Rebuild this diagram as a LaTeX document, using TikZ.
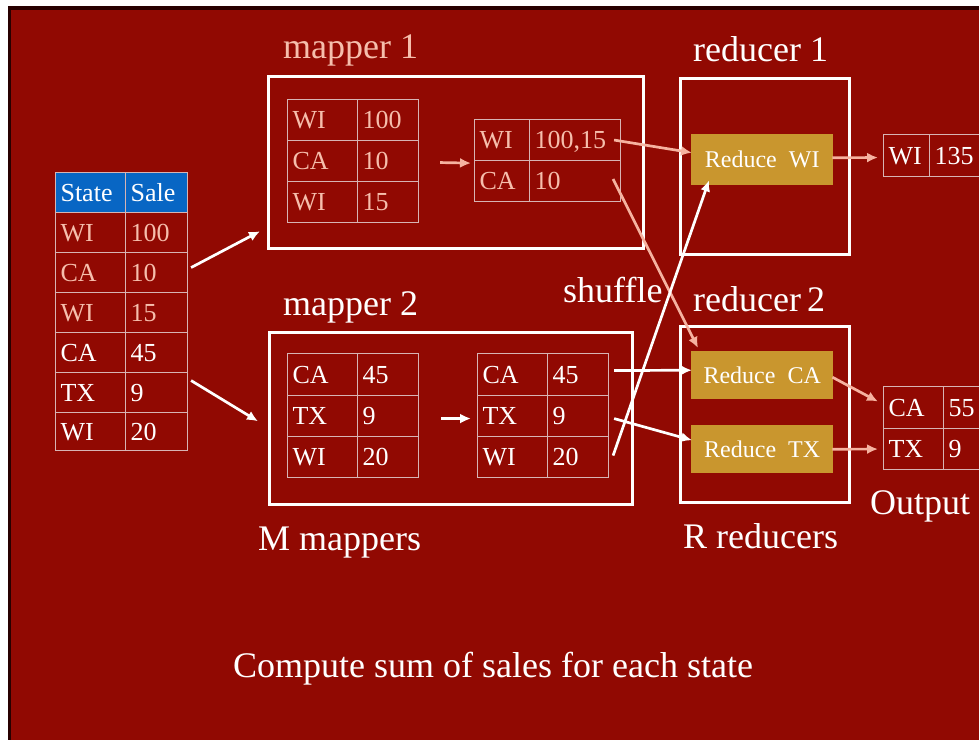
\documentclass[tikz,border=0pt]{standalone}
\usepackage{fontspec}
\setmainfont{Liberation Serif}
\usetikzlibrary{calc,arrows.meta}
\definecolor{bgred}{RGB}{145,9,2}
\definecolor{darkedge}{RGB}{40,0,0}
\definecolor{pinktxt}{RGB}{246,190,172}
\definecolor{pinkarr}{RGB}{246,178,160}
\definecolor{gridln}{RGB}{215,180,180}
\definecolor{hdrblue}{RGB}{8,102,196}
\definecolor{goldbox}{RGB}{201,150,46}
\tikzset{
 cellbox/.style={draw=gridln, line width=1.1pt, inner xsep=5pt, inner ysep=0pt, align=left,
   anchor=north west, text height=17.5pt, text depth=0pt, font=\fontsize{26}{28}\selectfont},
 framebox/.style={draw=white, line width=2.5pt, inner sep=0pt, anchor=north west},
 redbox/.style={fill=goldbox, text=white, font=\fontsize{24}{26}\selectfont, inner sep=0pt,
   anchor=north west, minimum width=142pt, text height=16.5pt, text depth=0pt},
 lbl/.style={text=white, font=\fontsize{36}{40}\selectfont, anchor=base west, inner sep=0pt},
 warr/.style={draw=white, line width=2.7pt, -{Latex[length=11pt,width=10pt]}},
 parr/.style={warr, draw=pinkarr},
}
\newcommand{\tcell}[7]{%
  \pgfmathsetmacro\cellw{#4-#2}%
  \pgfmathsetmacro\cellh{#5-#3}%
  \pgfmathsetmacro\celltw{#4-#2-10}%
  \node[cellbox, #6, minimum width=\cellw pt, text width=\celltw pt, minimum height=\cellh pt] (#1) at (#2,#3) {#7};}
\begin{document}
\begin{tikzpicture}[x=1pt,y=-1pt]
\useasboundingbox (0,0) rectangle (979,740);
\fill[white] (0,0) rectangle (979,740);
\fill[darkedge] (8,6) rectangle (979,740);
\fill[bgred] (11,10) rectangle (979,740);

% left input table
\tcell{lt-h1}{55}{172}{125}{212}{text=white,fill=hdrblue}{State}
\tcell{lt-h2}{125}{172}{187}{212}{text=white,fill=hdrblue}{Sale}
\tcell{lt-k1}{55}{212}{125}{252}{text=pinktxt}{WI}
\tcell{lt-v1}{125}{212}{187}{252}{text=pinktxt}{100}
\tcell{lt-k2}{55}{252}{125}{292}{text=pinktxt}{CA}
\tcell{lt-v2}{125}{252}{187}{292}{text=pinktxt}{10}
\tcell{lt-k3}{55}{292}{125}{332}{text=pinktxt}{WI}
\tcell{lt-v3}{125}{292}{187}{332}{text=pinktxt}{15}
\tcell{lt-k4}{55}{332}{125}{372}{text=white}{CA}
\tcell{lt-v4}{125}{332}{187}{372}{text=white}{45}
\tcell{lt-k5}{55}{372}{125}{412}{text=white}{TX}
\tcell{lt-v5}{125}{372}{187}{412}{text=white}{9}
\tcell{lt-k6}{55}{412}{125}{450}{text=white}{WI}
\tcell{lt-v6}{125}{412}{187}{450}{text=white}{20}

% frames
\node[framebox, minimum width=375pt, minimum height=172pt] (m1) at (267,75) {};
\node[framebox, minimum width=363pt, minimum height=172pt] (m2) at (268,331) {};
\node[framebox, minimum width=169pt, minimum height=176pt] (r1) at (679,77) {};
\node[framebox, minimum width=169pt, minimum height=176pt] (r2) at (679,325) {};

% mapper 1 tables
\tcell{m1i-k1}{287}{99}{357}{140}{text=pinktxt}{WI}
\tcell{m1i-v1}{357}{99}{418}{140}{text=pinktxt}{100}
\tcell{m1i-k2}{287}{140}{357}{181}{text=pinktxt}{CA}
\tcell{m1i-v2}{357}{140}{418}{181}{text=pinktxt}{10}
\tcell{m1i-k3}{287}{181}{357}{222}{text=pinktxt}{WI}
\tcell{m1i-v3}{357}{181}{418}{222}{text=pinktxt}{15}
\tcell{m1o-k1}{474}{119}{529}{160}{text=pinktxt}{WI}
\tcell{m1o-v1}{529}{119}{620}{160}{text=pinktxt}{100,15}
\tcell{m1o-k2}{474}{160}{529}{201}{text=pinktxt}{CA}
\tcell{m1o-v2}{529}{160}{620}{201}{text=pinktxt}{10}

% mapper 2 tables
\tcell{m2i-k1}{287}{353}{357}{395}{text=white}{CA}
\tcell{m2i-v1}{357}{353}{418}{395}{text=white}{45}
\tcell{m2i-k2}{287}{395}{357}{436}{text=white}{TX}
\tcell{m2i-v2}{357}{395}{418}{436}{text=white}{9}
\tcell{m2i-k3}{287}{436}{357}{477}{text=white}{WI}
\tcell{m2i-v3}{357}{436}{418}{477}{text=white}{20}
\tcell{m2o-k1}{477}{353}{547}{395}{text=white}{CA}
\tcell{m2o-v1}{547}{353}{608}{395}{text=white}{45}
\tcell{m2o-k2}{477}{395}{547}{436}{text=white}{TX}
\tcell{m2o-v2}{547}{395}{608}{436}{text=white}{9}
\tcell{m2o-k3}{477}{436}{547}{477}{text=white}{WI}
\tcell{m2o-v3}{547}{436}{608}{477}{text=white}{20}

% reduce boxes
\node[redbox, minimum height=51pt] (rwi) at (691,134) {Reduce\ \ WI};
\node[redbox, minimum height=48pt] (rca) at (691,351) {Reduce\ \ CA};
\node[redbox, minimum height=48pt] (rtx) at (691,425) {Reduce\ \ TX};

% output tables
\tcell{owi-k}{883}{134}{929}{176}{text=white}{WI}
\tcell{owi-v}{929}{134}{982}{176}{text=white}{135}
\tcell{oc-k1}{883}{386}{943}{428}{text=white}{CA}
\tcell{oc-v1}{943}{386}{982}{428}{text=white}{55}
\tcell{oc-k2}{883}{428}{943}{469}{text=white}{TX}
\tcell{oc-v2}{943}{428}{982}{469}{text=white}{9}

% labels
\node[lbl, text=pinktxt] (lm1) at (283,58) {mapper 1};
\node[lbl] (lr1) at (693,61) {reducer 1};
\node[lbl] (lm2) at (283,315) {mapper 2};
\node[lbl] (lr2) at (693,311) {reducer\,2};
\node[lbl] (lsh) at (563,302) {shuffle};
\node[lbl] (lout) at (870,514) {Output};
\node[lbl] (lmm) at (258,550) {M mappers};
\node[lbl] (lrr) at (683,548) {R reducers};
\node[lbl] (lcap) at (233,677) {Compute sum of sales for each state};

% input -> mappers
\draw[warr] ($(lt-v2.east)+(3,-5)$) -- ($(m1.west)+(-7,69)$);
\draw[warr] ($(lt-v5.east)+(3,-12)$) -- ($(m2.west)+(-10,3)$);
% inside mappers
\draw[parr] ($(m1i-v2.east)+(21,1.5)$) -- ($(m1o-k1.south west)+(-3,2)$);
\draw[warr] ($(m2i-v2.east)+(22,2.5)$) -- ($(m2o-k2.west)+(-6,2.5)$);
% shuffle
\draw[parr] ($(m1o-v1.east)+(-7,0)$) -- ($(rwi.west)+(1,-7)$);
\draw[parr] ($(m1o-v2.east)+(-8,-2)$) -- ($(rca.north west)+(7,-3)$);
\draw[warr] ($(m2o-v1.east)+(5,-4)$) -- ($(rca.west)+(1,-5)$);
\draw[warr] ($(m2o-v2.east)+(5,2.5)$) -- ($(rtx.west)+(1,-9)$);
\draw[warr] ($(m2o-v3.east)+(4,-1.5)$) -- ($(rwi.south west)+(18,-5)$);
% reducers -> output
\draw[parr] ($(rwi.east)+(-1,-2)$) -- ($(owi-k.west)+(-5,2)$);
\draw[parr] ($(rca.east)+(-1,2)$) -- ($(oc-k1.west)+(-5,-6)$);
\draw[parr] ($(rtx.east)+(-1,0)$) -- ($(oc-k2.west)+(-5,0)$);
\end{tikzpicture}
\end{document}
